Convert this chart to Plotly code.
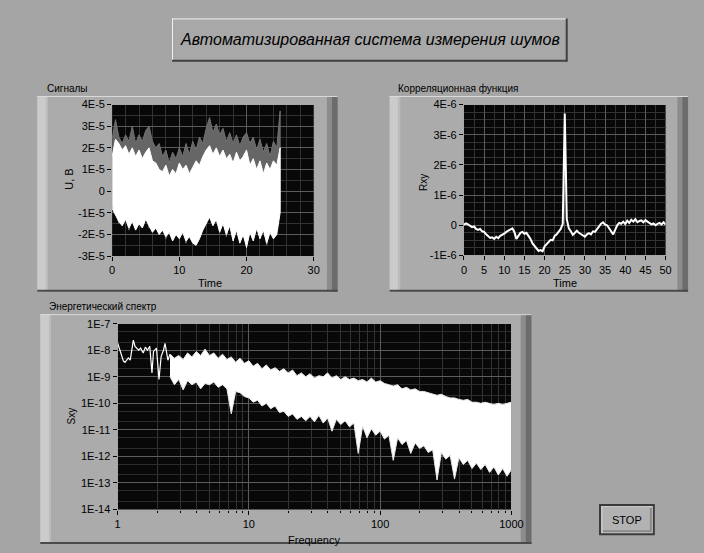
import numpy as np
import plotly.graph_objects as go

W, H = 704, 553
FONT = "Liberation Sans, Arial, sans-serif"

# ---------------- data ----------------
# Signals: two noise channels, envelope read at 0.5 s steps (units of 1E-5 V)
t_sig = [i * 0.5 for i in range(51)]
ch1_hi = [2.4, 3.3, 2.5, 2.2, 2.6, 2.3, 3.0, 2.2, 2.6, 2.3,
          2.8, 3.0, 2.3, 2.0, 2.2, 1.6, 1.9, 1.3, 1.8, 1.5,
          2.0, 1.6, 2.2, 1.7, 2.3, 1.9, 2.5, 2.2, 2.9, 3.4,
          2.7, 3.1, 2.6, 2.9, 2.3, 2.7, 2.2, 2.6, 2.1, 2.5,
          2.7, 2.2, 2.5, 1.9, 2.4, 1.8, 2.2, 1.6, 2.3, 2.0,
          3.7]
ch1_lo = [-0.6, -0.9, -1.5, -1.3, -1.1, -1.8, -1.2, -1.5, -1.3, -1.5,
          -1.1, -1.7, -1.6, -1.5, -1.8, -1.6, -2.2, -1.7, -2.0, -1.8,
          -2.0, -1.7, -2.4, -1.9, -2.1, -2.3, -2.0, -1.6, -1.3, -1.0,
          -1.4, -1.4, -1.7, -1.3, -2.1, -1.4, -2.1, -1.6, -2.2, -2.1,
          -2.3, -1.7, -2.1, -1.8, -2.0, -1.6, -2.5, -1.7, -2.0, -1.8,
          -0.8]
ch2_hi = [1.6, 2.4, 2.2, 1.9, 2.1, 1.7, 2.0, 1.6, 1.9, 1.5,
          1.8, 2.0, 1.4, 1.3, 1.0, 0.9, 1.2, 0.7, 1.0, 0.8,
          1.3, 1.0, 1.2, 0.8, 1.1, 1.4, 1.2, 1.6, 1.9, 2.1,
          1.7, 2.0, 1.6, 1.9, 1.5, 1.7, 1.3, 1.8, 1.4, 1.6,
          1.9, 1.2, 1.5, 1.0, 1.4, 0.8, 1.3, 1.0, 1.4, 1.2,
          2.0]
ch2_lo = [-0.8, -1.1, -1.4, -1.6, -1.3, -1.7, -1.4, -1.8, -1.5, -1.7,
          -1.3, -1.6, -1.9, -1.7, -2.0, -1.8, -2.1, -1.9, -2.3, -2.0,
          -2.2, -1.9, -2.3, -2.1, -2.4, -2.5, -2.2, -1.8, -1.5, -1.2,
          -1.6, -1.3, -1.9, -1.5, -2.0, -1.6, -2.3, -1.8, -2.4, -2.0,
          -2.6, -1.9, -2.3, -1.7, -2.2, -1.8, -2.4, -1.9, -2.2, -2.0,
          -1.0]

# Correlation function, 0.5 s steps (units of 1E-6)
t_corr = [i * 0.5 for i in range(101)]
rxy = [0.02, 0.06, 0.03, -0.02, -0.06, -0.04, -0.12, -0.15, -0.12, -0.2,
       -0.22, -0.3, -0.36, -0.42, -0.4, -0.45, -0.38, -0.43, -0.35, -0.32,
       -0.28, -0.22, -0.18, -0.12, -0.1, -0.22, -0.45, -0.35, -0.25, -0.22,
       -0.28, -0.25, -0.35, -0.45, -0.6, -0.68, -0.78, -0.85, -0.82, -0.86,
       -0.7, -0.62, -0.55, -0.48, -0.5, -0.35, -0.3, -0.2, -0.12, 0.05,
       3.7, 0.2, -0.1, -0.2, -0.32, -0.25, -0.18, -0.25, -0.3, -0.35,
       -0.38, -0.3, -0.26, -0.3, -0.2, -0.22, -0.12, -0.05, 0.05, 0.1,
       0.02, 0.0, -0.1, -0.2, -0.3, -0.15, 0.0, 0.08, 0.05, 0.12,
       0.04, 0.15, 0.08, 0.18, 0.12, 0.2, 0.1, 0.14, 0.16, 0.1,
       0.17, 0.12, 0.08, 0.03, 0.06, 0.0, 0.05, 0.08, 0.03, 0.1,
       0.02]

# Energy spectrum: low-frequency line
f_low = [1.0, 1.04, 1.07, 1.11, 1.14, 1.21, 1.25, 1.32, 1.36, 1.45,
         1.5, 1.57, 1.63, 1.69, 1.76, 1.83, 1.88, 1.98, 2.07, 2.15,
         2.24, 2.3, 2.42, 2.51]
s_low = [1.9e-8, 1.0e-8, 5.9e-9, 3.9e-9, 3.5e-9, 5.1e-9, 4.2e-9, 2.4e-8, 1.4e-8, 1.0e-8,
         1.2e-8, 7.9e-9, 1.3e-8, 1.0e-8, 1.4e-8, 1.4e-9, 9.0e-9, 1.2e-8, 8.0e-10, 5.9e-9,
         1.0e-8, 1.8e-8, 4.2e-9, 7.1e-9]

# Energy spectrum: dense band above 2.5 Hz (upper / lower envelope, 30 points per decade)
f_band = list(np.logspace(0.4, 3.0, 79))
s_hi = [7.1e-9, 5.0e-9, 6.3e-9, 4.5e-9, 7.9e-9, 5.6e-9, 8.9e-9, 6.3e-9, 1.1e-8, 6.3e-9,
        7.9e-9, 5.0e-9, 7.1e-9, 4.5e-9, 5.6e-9, 3.5e-9, 5.0e-9, 3.2e-9, 4.0e-9, 2.5e-9,
        3.2e-9, 2.0e-9, 2.8e-9, 1.8e-9, 2.2e-9, 1.6e-9, 2.0e-9, 1.4e-9, 1.8e-9, 1.1e-9,
        1.4e-9, 1.0e-9, 1.3e-9, 8.9e-10, 1.1e-9, 1.0e-9, 1.4e-9, 8.9e-10, 1.1e-9, 7.9e-10,
        1.0e-9, 7.9e-10, 8.9e-10, 7.1e-10, 7.9e-10, 6.3e-10, 8.9e-10, 6.3e-10, 7.1e-10, 5.6e-10,
        5.0e-10, 4.5e-10, 5.0e-10, 3.5e-10, 4.0e-10, 3.2e-10, 3.5e-10, 2.8e-10, 2.8e-10, 2.5e-10,
        2.2e-10, 2.0e-10, 2.2e-10, 1.8e-10, 1.6e-10, 1.6e-10, 1.4e-10, 1.3e-10, 1.4e-10, 1.1e-10,
        1.1e-10, 1.0e-10, 1.1e-10, 1.0e-10, 8.9e-11, 1.0e-10, 8.9e-11, 1.0e-10, 1.1e-10]
s_lo = [1.0e-9, 5.0e-10, 7.9e-10, 3.2e-10, 7.1e-10, 5.0e-10, 6.3e-10, 3.5e-10, 5.6e-10, 5.0e-10,
        6.3e-10, 4.0e-10, 5.0e-10, 3.5e-10, 4.0e-11, 2.8e-10, 2.5e-10, 1.8e-10, 1.6e-10, 1.1e-10,
        1.3e-10, 7.9e-11, 1.0e-10, 6.3e-11, 7.9e-11, 4.5e-11, 5.0e-11, 3.2e-11, 4.0e-11, 2.5e-11,
        3.2e-11, 2.2e-11, 3.2e-11, 2.0e-11, 3.5e-11, 1.8e-11, 2.8e-11, 8.9e-12, 2.5e-11, 1.6e-11,
        2.2e-11, 1.3e-11, 1.8e-11, 1.3e-12, 1.4e-11, 5.0e-12, 1.1e-11, 6.3e-12, 8.9e-12, 4.5e-12,
        6.3e-12, 7.1e-13, 5.0e-12, 2.8e-12, 4.0e-12, 1.3e-12, 3.2e-12, 2.0e-12, 2.5e-12, 1.4e-12,
        1.8e-12, 1.3e-13, 1.4e-12, 7.9e-13, 1.1e-12, 1.4e-13, 8.9e-13, 5.0e-13, 7.1e-13, 3.5e-13,
        5.6e-13, 3.2e-13, 5.0e-13, 2.5e-13, 4.0e-13, 2.0e-13, 3.5e-13, 1.8e-13, 3.2e-13]

# Tick labels
sig_ticks = [-3e-5, -2e-5, -1e-5, 0, 1e-5, 2e-5, 3e-5, 4e-5]
sig_ticktext = ["-3E-5", "-2E-5", "-1E-5", "0", "1E-5", "2E-5", "3E-5", "4E-5"]
corr_ticks = [-1e-6, 0, 1e-6, 2e-6, 3e-6, 4e-6]
corr_ticktext = ["-1E-6", "0", "1E-6", "2E-6", "3E-6", "4E-6"]
spec_yticks = [1e-14, 1e-13, 1e-12, 1e-11, 1e-10, 1e-9, 1e-8, 1e-7]
spec_yticktext = ["1E-14", "1E-13", "1E-12", "1E-11", "1E-10", "1E-9", "1E-8", "1E-7"]
spec_xticks = [1, 10, 100, 1000]
spec_xticktext = ["1", "10", "100", "1000"]

# ---------------- helpers ----------------
def px(x):
    return x / W


def py(y):
    return 1 - y / H


def rect(x0, y0, x1, y1, fill, line=None, lw=0):
    return dict(type="rect", xref="paper", yref="paper", layer="below",
                x0=px(x0), x1=px(x1), y0=py(y1), y1=py(y0),
                fillcolor=fill, line=dict(color=line or fill, width=lw))


def hline(x0, x1, y, color, lw=1, layer="below"):
    return dict(type="line", xref="paper", yref="paper", layer=layer,
                x0=px(x0), x1=px(x1), y0=py(y), y1=py(y),
                line=dict(color=color, width=lw))


def vline(x, y0, y1, color, lw=1, layer="below"):
    return dict(type="line", xref="paper", yref="paper", layer=layer,
                x0=px(x), x1=px(x), y0=py(y0), y1=py(y1),
                line=dict(color=color, width=lw))


def panel(x0, y0, x1, y1):
    return [
        rect(x0, y0, x1, y1, "#ababab"),
        rect(x0, y0, x0 + 9, y1, "#cbcbcb"),
        rect(x0 + 9, y0, x0 + 11, y1, "#bcbcbc"),
        rect(x1 - 11, y0, x1 - 6, y1, "#8c8c8c"),
        rect(x1 - 6, y0, x1, y1, "#6c6c6c"),
        hline(x0, x1, y0 + 0.5, "#dadada", 1),
        hline(x0, x1, y1 - 1, "#4a4a4a", 2),
    ]


# ---------------- figure ----------------
fig = go.Figure()

# Signals
fig.add_trace(go.Scatter(
    x=t_sig + t_sig[::-1],
    y=[v * 1e-5 for v in ch1_hi] + [v * 1e-5 for v in ch1_lo[::-1]],
    mode="lines", fill="toself", fillcolor="#666666",
    line=dict(color="#727272", width=1), xaxis="x", yaxis="y",
    hoverinfo="skip", showlegend=False))
fig.add_trace(go.Scatter(
    x=t_sig + t_sig[::-1],
    y=[v * 1e-5 for v in ch2_hi] + [v * 1e-5 for v in ch2_lo[::-1]],
    mode="lines", fill="toself", fillcolor="#ffffff",
    line=dict(color="#ffffff", width=1), xaxis="x", yaxis="y",
    hoverinfo="skip", showlegend=False))

# Correlation
fig.add_trace(go.Scatter(
    x=t_corr, y=[v * 1e-6 for v in rxy], mode="lines",
    line=dict(color="#ffffff", width=2), xaxis="x2", yaxis="y2",
    hoverinfo="skip", showlegend=False))

# Spectrum
fig.add_trace(go.Scatter(
    x=f_band + f_band[::-1], y=s_hi + s_lo[::-1],
    mode="lines", fill="toself", fillcolor="#ffffff",
    line=dict(color="#e8e8e8", width=1), xaxis="x3", yaxis="y3",
    hoverinfo="skip", showlegend=False))
fig.add_trace(go.Scatter(
    x=f_low, y=s_low, mode="lines",
    line=dict(color="#ffffff", width=1.2), xaxis="x3", yaxis="y3",
    hoverinfo="skip", showlegend=False))

GRID = "#5c5c5c"
MINOR = "#333333"
tickfont = dict(size=11, color="#000000", family=FONT)


def axis(**kw):
    base = dict(showgrid=True, gridcolor=GRID, gridwidth=1, zeroline=False,
                ticks="outside", ticklen=4, tickcolor="#000000", tickwidth=1,
                tickfont=tickfont, showline=True, linecolor="#a8a8a8",
                linewidth=1, mirror=True, fixedrange=True)
    base.update(kw)
    return base


# Plot-area rectangles in pixels
sig_box = (111.5, 100.7, 317.5, 255.7)
corr_box = (471.0, 100.7, 677.0, 255.0)
spec_box = (117.0, 324.7, 519.5, 514.7)

layout = dict(
    width=W, height=H,
    margin=dict(l=0, r=0, t=0, b=0),
    paper_bgcolor="#a5a5a5", plot_bgcolor="#080808",
    showlegend=False,
    font=dict(family=FONT, color="#000000"),
    xaxis=axis(domain=[px(sig_box[0]), px(sig_box[2])], range=[0, 30],
               tickvals=[0, 10, 20, 30], anchor="y",
               minor=dict(dtick=2, showgrid=True, gridcolor=MINOR)),
    yaxis=axis(domain=[py(sig_box[3]), py(sig_box[1])], range=[-3e-5, 4e-5],
               tickvals=sig_ticks, ticktext=sig_ticktext, anchor="x",
               minor=dict(dtick=0.5e-5, showgrid=True, gridcolor=MINOR)),
    xaxis2=axis(domain=[px(corr_box[0]), px(corr_box[2])], range=[0, 50],
                tickvals=list(range(0, 51, 5)), anchor="y2",
                minor=dict(dtick=2.5, showgrid=True, gridcolor=MINOR)),
    yaxis2=axis(domain=[py(corr_box[3]), py(corr_box[1])], range=[-1e-6, 4e-6],
                tickvals=corr_ticks, ticktext=corr_ticktext, anchor="x2",
                minor=dict(dtick=0.25e-6, showgrid=True, gridcolor=MINOR)),
    xaxis3=axis(domain=[px(spec_box[0]), px(spec_box[2])], type="log",
                range=[0, 3], tickvals=spec_xticks, ticktext=spec_xticktext,
                anchor="y3",
                minor=dict(dtick="D1", showgrid=True, gridcolor=MINOR,
                           ticks="outside", ticklen=2, tickcolor="#000000")),
    yaxis3=axis(domain=[py(spec_box[3]), py(spec_box[1])], type="log",
                range=[-14, -7], tickvals=spec_yticks, ticktext=spec_yticktext,
                anchor="x3",
                minor=dict(dtick="D2", showgrid=True, gridcolor="#2c2c2c")),
)

shapes = []
# title box
shapes += [
    rect(172.7, 12.7, 576.7, 56.7, "#a8a8a8"),
    hline(172.7, 576.7, 13.2, "#f0f0f0", 1),
    vline(173.2, 12.7, 56.7, "#f0f0f0", 1),
    hline(172.7, 576.7, 56.0, "#404040", 2),
    vline(576.0, 12.7, 56.7, "#404040", 2),
]
# graph panels, each with its black plotting area on top
shapes += panel(35, 92, 342, 292)
shapes += panel(395, 92, 700, 292)
shapes += panel(38, 315, 540, 550)
for bx in (sig_box, corr_box, spec_box):
    shapes.append(rect(bx[0], bx[1], bx[2], bx[3], "#080808"))
# STOP button
shapes += [
    rect(609, 509, 666, 541, "#3a3a3a"),
    rect(611, 511, 664, 539, "#c6c6c6"),
    rect(613, 513, 663, 538, "#8a8a8a"),
    rect(613, 513, 661, 536, "#b2b2b2"),
]
layout["shapes"] = shapes


def label(x, y, text, size=10, anchor="left", angle=0, **kw):
    return dict(x=px(x), y=py(y), xref="paper", yref="paper", text=text,
                showarrow=False, xanchor=anchor, yanchor="middle",
                textangle=angle, font=dict(size=size, color="#000000", family=FONT), **kw)


layout["annotations"] = [
    label(374.7, 34.7, "<i>Автоматизированная система измерения шумов</i>", size=16, anchor="center"),
    label(43, 84.5, "Сигналы", size=10),
    label(402, 84.5, "Корреляционная функция", size=10),
    label(45, 307.5, "Энергетический спектр", size=10),
    label(68, 177, "U, B", size=11, anchor="center", angle=-90),
    label(212, 283, "Time", size=11, anchor="center"),
    label(429, 180, "Rxy", size=10, anchor="center", angle=-90),
    label(574, 283, "Time", size=11, anchor="center"),
    label(70, 419, "Sxy", size=10, anchor="center", angle=-90),
    label(318, 546, "Frequency", size=11, anchor="center"),
    label(637.5, 525, "STOP", size=11, anchor="center"),
]

fig.update_layout(**layout)
fig.write_html("out.html")
